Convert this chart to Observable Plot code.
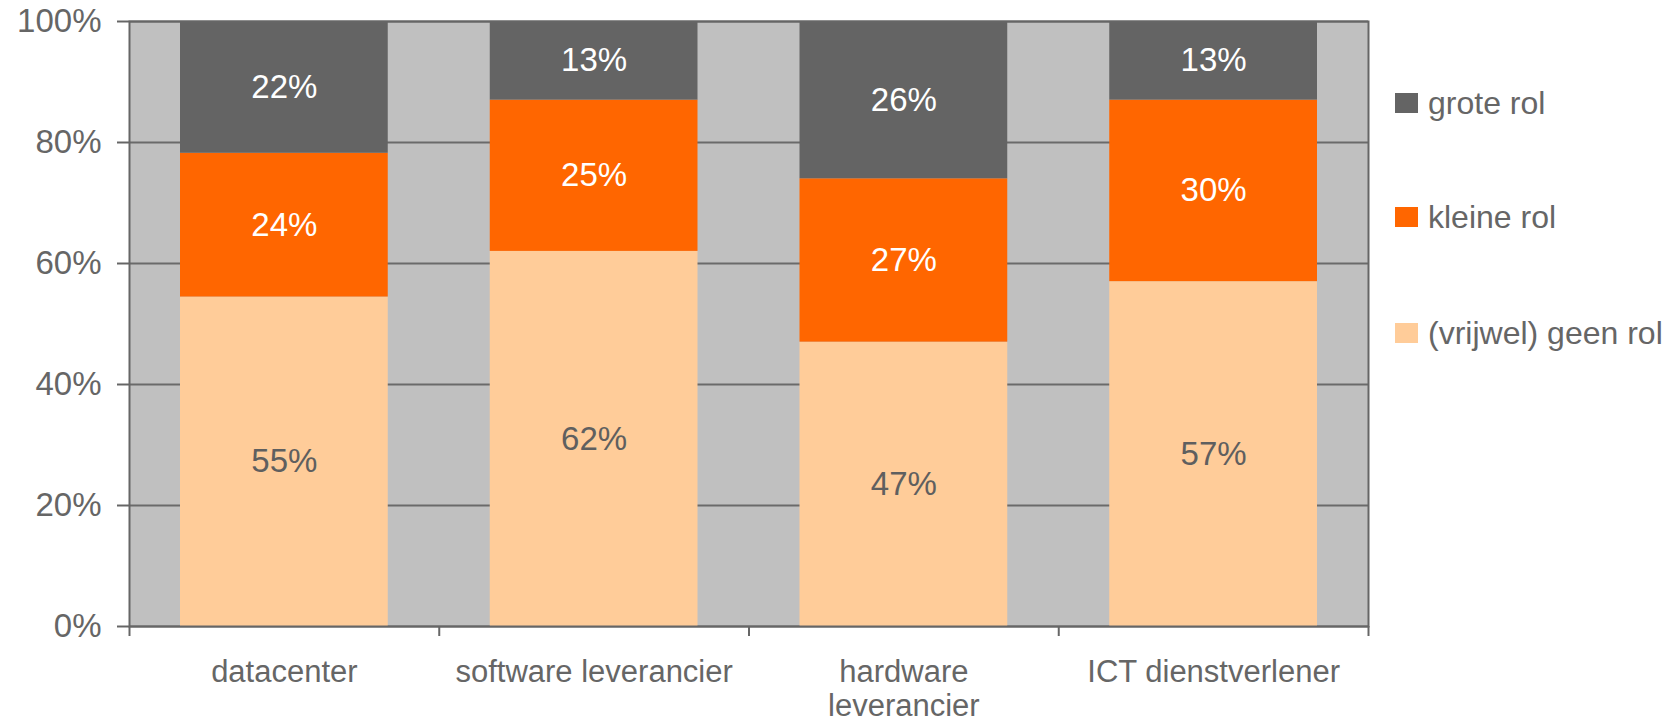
<!DOCTYPE html>
<html>
<head>
<meta charset="utf-8">
<script src="https://cdn.jsdelivr.net/npm/d3@7"></script>
<script src="https://cdn.jsdelivr.net/npm/@observablehq/plot@0.6"></script>
<style>
  html, body { margin: 0; padding: 0; background: #fff; }
  #wrap { position: relative; width: 1677px; height: 721px; font-family: "Liberation Sans", Arial, sans-serif; }
  #legend { position: absolute; left: 1395px; top: 0; }
  .item { position: absolute; left: 0; display: flex; align-items: center; white-space: nowrap; font-size: 32px; color: #666; }
  .sw { width: 23px; height: 20px; margin-right: 10px; }
</style>
</head>
<body>
<div id="wrap"><div id="legend"></div></div>
<script>
const categories = ["datacenter", "software leverancier", "hardware\nleverancier", "ICT dienstverlener"];
const seriesNames = ["(vrijwel) geen rol", "kleine rol", "grote rol"];
const geenRol = [55, 62, 47, 57];
const kleineRol = [24, 25, 27, 30];
const groteRol = [22, 13, 26, 13];
const colors = ["#FFCC99", "#FF6600", "#646464"];
const yTicks = [0, 0.2, 0.4, 0.6, 0.8, 1];
const legendTops = [103, 217, 333];

const seriesValues = [geenRol, kleineRol, groteRol];
const rows = [];
categories.forEach((c, i) => {
  seriesNames.forEach((s, k) => {
    rows.push({cat: c, x1: i, x2: i + 1, xm: i + 0.5, series: s, value: seriesValues[k][i]});
  });
});

const stackOpts = {offset: "normalize", order: seriesNames};
const fontFamily = '"Liberation Sans", Arial, sans-serif';

const chart = Plot.plot({
  width: 1677,
  height: 721,
  marginLeft: 129,
  marginRight: 309,
  marginTop: 21,
  marginBottom: 95,
  style: {fontFamily, background: "transparent", overflow: "visible"},
  x: {domain: [0, 4], axis: null},
  y: {domain: [0, 1], axis: null, label: null},
  color: {domain: seriesNames, range: colors},
  marks: [
    Plot.frame({fill: "#C0C0C0", stroke: null}),
    Plot.gridY(yTicks, {stroke: "#6a6a6a", strokeOpacity: 1, strokeWidth: 2}),
    Plot.rectY(rows, {x1: "x1", x2: "x2", y: "value", fill: "series", ...stackOpts, insetLeft: 51, insetRight: 51}),
    Plot.text(rows, Plot.stackY({x: "xm", y: "value", z: "series", ...stackOpts,
      text: d => d.series === seriesNames[0] ? null : d.value + "%", fill: "white", fontSize: 33})),
    Plot.text(rows, Plot.stackY({x: "xm", y: "value", z: "series", ...stackOpts,
      text: d => d.series === seriesNames[0] ? d.value + "%" : null, fill: "#5f5f5f", fontSize: 33})),
    Plot.frame({stroke: "#666", strokeWidth: 2, fill: null}),
    Plot.axisY({ticks: yTicks, tickFormat: d3.format(".0%"), tickSize: 12, tickPadding: 16, label: null,
      fontSize: 33, stroke: "#666", fill: "#666", strokeWidth: 2}),
    Plot.axisX({ticks: [0, 1, 2, 3, 4], tickFormat: () => "", tickSize: 10, label: null, stroke: "#666", strokeWidth: 2}),
    Plot.axisX({ticks: categories.map((c, i) => i + 0.5), tickFormat: d => categories[Math.floor(d)], label: null,
      tickSize: 0, tickPadding: 31, fontSize: 31, fill: "#666", lineHeight: 1.1})
  ]
});
document.getElementById("wrap").prepend(chart);

const legend = document.getElementById("legend");
[2, 1, 0].forEach((k, j) => {
  const item = document.createElement("div");
  item.className = "item";
  item.style.top = (legendTops[j] - 20) + "px";
  item.style.height = "40px";
  const sw = document.createElement("span");
  sw.className = "sw";
  sw.style.background = colors[k];
  const t = document.createElement("span");
  t.textContent = seriesNames[k];
  item.append(sw, t);
  legend.append(item);
});
</script>
</body>
</html>
